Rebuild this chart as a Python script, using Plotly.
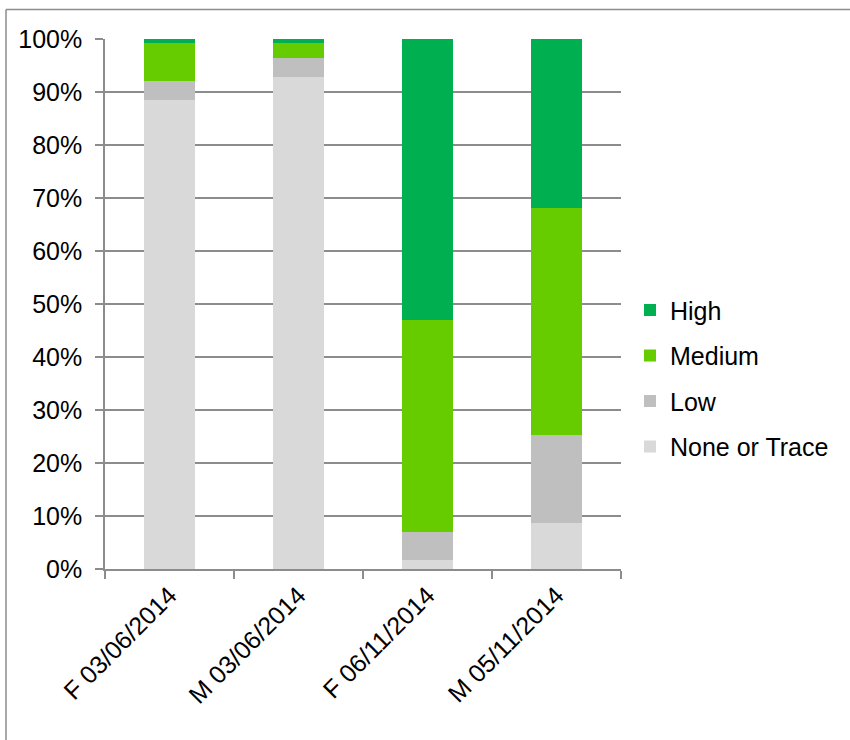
import plotly.graph_objects as go

categories = ["F 03/06/2014", "M 03/06/2014", "F 06/11/2014", "M 05/11/2014"]
none_trace = [88.5, 92.9, 1.7, 8.7]
low = [3.5, 3.6, 5.3, 16.6]
medium = [7.2, 2.8, 39.9, 42.8]
high = [0.8, 0.7, 53.1, 31.9]

series = [
    ("None or Trace", none_trace, "#D9D9D9"),
    ("Low", low, "#BFBFBF"),
    ("Medium", medium, "#66CC00"),
    ("High", high, "#00B050"),
]

FONT = "Liberation Sans, Arial, sans-serif"
W, H = 850, 740
L, R, T, B = 105, 229, 38.5, 171
pw, ph = W - L - R, H - T - B

fig = go.Figure()
for i, (name, vals, col) in enumerate(series):
    fig.add_trace(go.Bar(
        x=categories, y=[v / 100 for v in vals], name=name,
        marker=dict(color=col, line=dict(width=0)),
        legendgroup=name, legendrank=100 - i,
    ))

grid = "#8C8C8C"
fig.update_layout(
    width=W, height=H,
    margin=dict(l=L, r=R, t=T, b=B, pad=0),
    barmode="stack", bargap=0.61,
    paper_bgcolor="white", plot_bgcolor="white",
    font=dict(family=FONT, size=25, color="#000000"),
    showlegend=True,
    legend=dict(
        x=(630 - L) / pw, xanchor="left",
        y=(569 - 378) / ph, yanchor="middle",
        traceorder="grouped", tracegroupgap=10,
        font=dict(family=FONT, size=25, color="#000000"),
        bgcolor="rgba(0,0,0,0)",
    ),
    xaxis=dict(
        type="category", showgrid=False, showline=True, linecolor=grid, linewidth=1.5,
        ticks="outside", tickson="boundaries", ticklen=8, tickcolor=grid, tickwidth=1.5,
        tickangle=-45, tickfont=dict(family=FONT, size=25, color="#000000"),
    ),
    yaxis=dict(
        range=[0, 1], tickvals=[i / 10 for i in range(11)], tickformat=".0%",
        showgrid=True, gridcolor=grid, gridwidth=1.5,
        showline=True, linecolor=grid, linewidth=1.5,
        ticks="outside", ticklen=8, tickcolor=grid, tickwidth=1.5,
        ticklabelstandoff=8, zeroline=False,
        tickfont=dict(family=FONT, size=25, color="#000000"),
    ),
    shapes=[
        dict(type="line", xref="paper", yref="paper",
             x0=(6 - L) / pw, x1=(6 - L) / pw, y0=(H - B - 9) / ph, y1=-B / ph - 0.1,
             line=dict(color=grid, width=1.5)),
        dict(type="line", xref="paper", yref="paper",
             x0=(6 - L) / pw, x1=(W - L) / pw + 0.1, y0=(H - B - 9) / ph, y1=(H - B - 9) / ph,
             line=dict(color=grid, width=1.5)),
    ],
)

fig.write_html("out.html")
